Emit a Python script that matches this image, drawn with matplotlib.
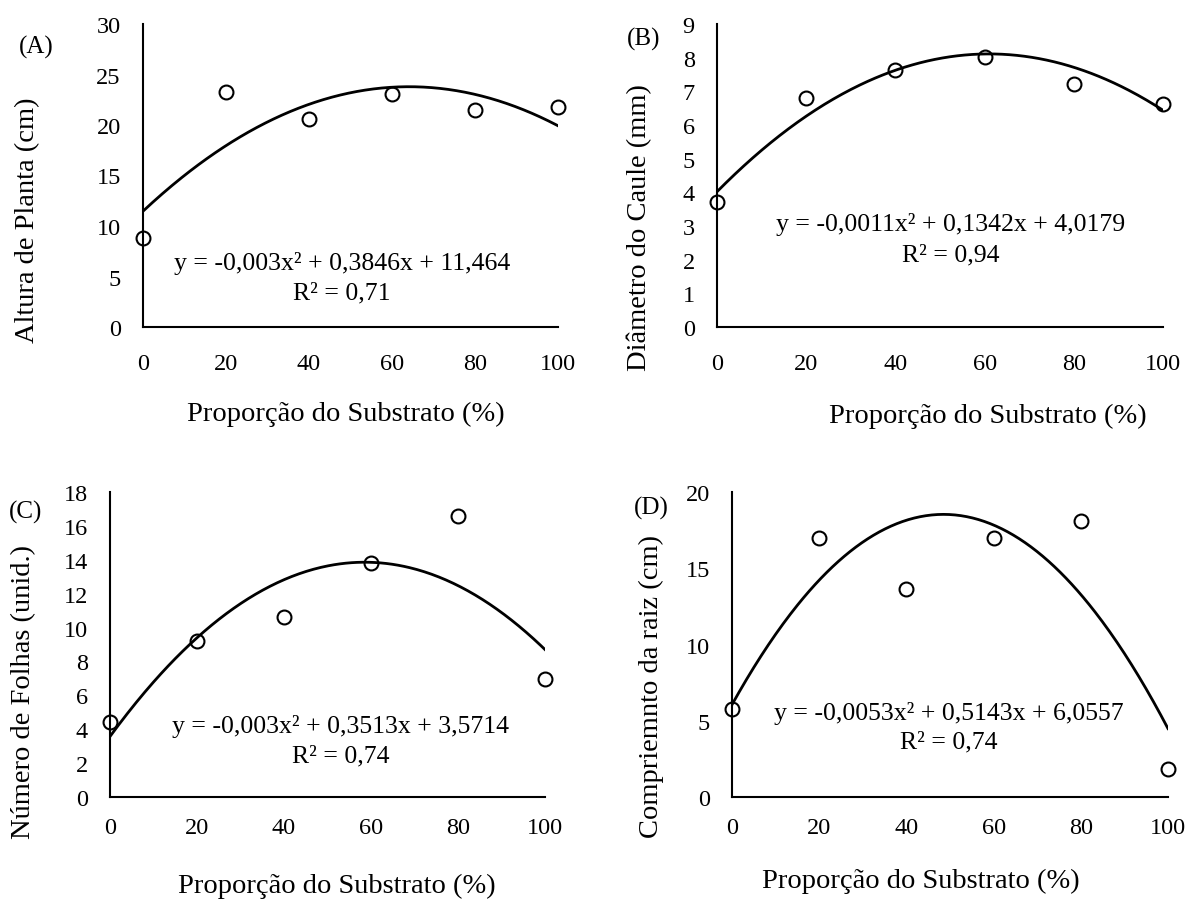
import numpy as np
import matplotlib
matplotlib.use("Agg")
import matplotlib.pyplot as plt

plt.rcParams['font.family'] = ['Liberation Serif', 'DejaVu Serif']

x_vals = [0, 20, 40, 60, 80, 100]

alt_planta = [8.8, 23.3, 20.6, 23.1, 21.5, 21.8]
diam_caule = [3.71, 6.80, 7.62, 8.03, 7.22, 6.62]
num_folhas = [4.43, 9.2, 10.6, 13.8, 16.6, 6.98]
comp_raiz = [5.79, 16.98, 13.66, 17.0, 18.1, 1.86]

coef_a = [-0.003, 0.3846, 11.464]
coef_b = [-0.0011, 0.1342, 4.0179]
coef_c = [-0.003, 0.3513, 3.5714]
coef_d = [-0.0053, 0.5143, 6.0557]

eq_a = "y = -0,003x\u00b2 + 0,3846x + 11,464"
eq_b = "y = -0,0011x\u00b2 + 0,1342x + 4,0179"
eq_c = "y = -0,003x\u00b2 + 0,3513x + 3,5714"
eq_d = "y = -0,0053x\u00b2 + 0,5143x + 6,0557"
r2_a = "R\u00b2 = 0,71"
r2_b = "R\u00b2 = 0,94"
r2_c = "R\u00b2 = 0,74"
r2_d = "R\u00b2 = 0,74"

ylab_a = "Altura de Planta (cm)"
ylab_b = "Diâmetro do Caule (mm)"
ylab_c = "Número de Folhas (unid.)"
ylab_d = "Compriemnto da raiz (cm)"
xlab = "Proporção do Substrato (%)"

W, H = 1189, 903
fig = plt.figure(figsize=(W / 100, H / 100), dpi=100)


def px_axes(x0, x1, ytop, ybot):
    return fig.add_axes([x0 / W, 1 - ybot / H, (x1 - x0) / W, (ybot - ytop) / H])


panels = [
    dict(box=(143, 558, 25, 328), y=alt_planta, coef=coef_a, ymax=30, ystep=5,
         eq=eq_a, r2=r2_a, eqx=47.9, eqy=6.43, r2y=3.46, ylab=ylab_a, ylabpos=(28, 220),
         tag="(A)", tagpos=(36, 47), xlabpos=(346, 414), xpad=19),
    dict(box=(717, 1163, 25, 328), y=diam_caule, coef=coef_b, ymax=9, ystep=1,
         eq=eq_b, r2=r2_b, eqx=52.4, eqy=3.07, r2y=2.15, ylab=ylab_b, ylabpos=(639, 228),
         tag="(B)", tagpos=(644, 39), xlabpos=(988, 416), xpad=19),
    dict(box=(110, 545, 493, 798), y=num_folhas, coef=coef_c, ymax=18, ystep=2,
         eq=eq_c, r2=r2_c, eqx=53.1, eqy=4.23, r2y=2.46, ylab=ylab_c, ylabpos=(24, 692),
         tag="(C)", tagpos=(26, 512), xlabpos=(337, 886), xpad=14.5),
    dict(box=(732, 1168, 493, 798), y=comp_raiz, coef=coef_d, ymax=20, ystep=5,
         eq=eq_d, r2=r2_d, eqx=49.7, eqy=5.57, r2y=3.61, ylab=ylab_d, ylabpos=(651, 686),
         tag="(D)", tagpos=(651, 508), xlabpos=(921, 881), xpad=14.5),
]

for p in panels:
    x0, x1, yt, yb = p['box']
    ax = px_axes(x0, x1, yt, yb)
    xs = np.linspace(0, 100, 300)
    ax.plot(xs, np.polyval(p['coef'], xs), color='black', lw=2.0, zorder=2)
    ax.plot(x_vals, p['y'], linestyle='none', marker='o', markersize=10,
            markerfacecolor='none', markeredgecolor='black', markeredgewidth=1.5,
            zorder=3, clip_on=False)
    ax.set_xlim(0, 100)
    ax.set_ylim(0, p['ymax'])
    ax.set_xticks(x_vals)
    ax.set_yticks(np.arange(0, p['ymax'] + 0.001, p['ystep']))
    ax.tick_params(axis='both', length=0, labelsize=17.5)
    ax.tick_params(axis='x', pad=p['xpad'])
    ax.tick_params(axis='y', pad=16)
    for s in ['top', 'right']:
        ax.spines[s].set_visible(False)
    for s in ['left', 'bottom']:
        ax.spines[s].set_linewidth(1.5)
    ax.patch.set_alpha(0)
    ax.text(p['eqx'], p['eqy'], p['eq'], ha='center', va='center', fontsize=18.5)
    ax.text(p['eqx'], p['r2y'], p['r2'], ha='center', va='center', fontsize=18.5)
    fig.text(p['ylabpos'][0] / W, 1 - p['ylabpos'][1] / H, p['ylab'], rotation=90,
             ha='center', va='center', fontsize=20.5)
    fig.text(p['xlabpos'][0] / W, 1 - p['xlabpos'][1] / H, xlab,
             ha='center', va='center', fontsize=20.5)
    fig.text(p['tagpos'][0] / W, 1 - p['tagpos'][1] / H, p['tag'],
             ha='center', va='center', fontsize=18)

fig.savefig("out.png", dpi=100)
